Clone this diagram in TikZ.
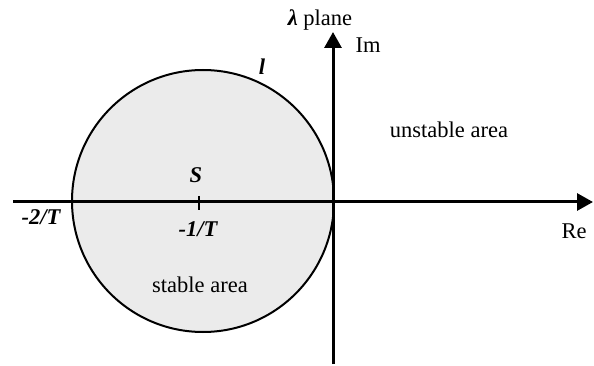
\documentclass[tikz,border=0pt]{standalone}
\usepackage{fontspec}
\setmainfont{Liberation Serif}
\usetikzlibrary{arrows.meta}
\definecolor{areafill}{HTML}{EBEBEB}
\begin{document}
\begin{tikzpicture}[x=1pt,y=-1pt,
  font=\fontsize{22.5}{27}\selectfont,
  lbl/.style={inner sep=0pt, anchor=base},
  bi/.style={lbl, font=\fontsize{22.5}{27}\selectfont\bfseries\itshape},
  axisline/.style={line width=3pt, -{Triangle[length=16pt,width=17pt]}},
  region/.style={draw=black, line width=2pt, fill=areafill}]
\useasboundingbox (0,0) rectangle (594,366);
% stable region
\filldraw[region] (203,201) circle[radius=131];
% axes
\coordinate (hleft) at (13,202);
\coordinate (hright) at (593,202);
\coordinate (vbot) at (333,364);
\coordinate (vtop) at (333,32);
\draw[axisline] (hleft) -- (hright);
\draw[axisline] (vbot) -- (vtop);
% tick at -1/T
\coordinate (tka) at (199,196);
\coordinate (tkb) at (199,210);
\draw[line width=2pt] (tka) -- (tkb);
% labels
\node[lbl] (lam) at (320,26) {\textbf{\textit{λ}} plane};
\node[lbl] (im) at (368,53) {Im};
\node[lbl] (re) at (574,238) {Re};
\node[bi] (ell) at (262,75) {l};
\node[bi] (s) at (196,183) {S};
\node[bi] (m1) at (198,236) {-1/T};
\node[bi] (m2) at (41,225) {-2/T};
\node[lbl] (unst) at (449,138) {unstable area};
\node[lbl] (st) at (200,292) {stable area};
\end{tikzpicture}
\end{document}
